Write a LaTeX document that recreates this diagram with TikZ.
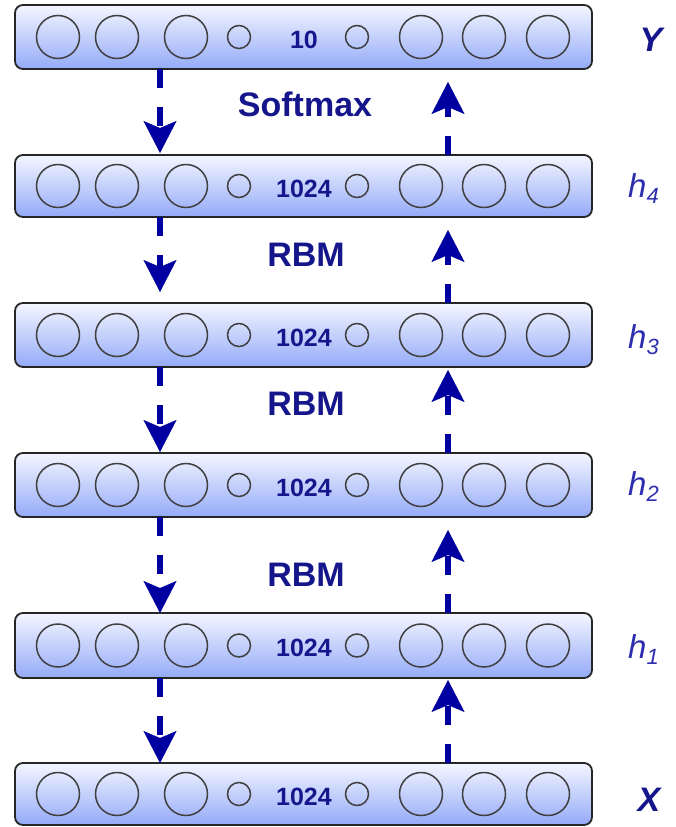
\documentclass[tikz,border=0pt]{standalone}
\usepackage{fontspec}
\setmainfont{Liberation Sans}
\usetikzlibrary{arrows.meta,calc}
\definecolor{arrowblue}{RGB}{0,0,160}
\definecolor{textblue}{RGB}{22,22,140}
\definecolor{labelblue}{RGB}{45,45,175}
\definecolor{boxtop}{RGB}{244,246,255}
\definecolor{boxbot}{RGB}{148,170,248}
\begin{document}
\begin{tikzpicture}[x=1pt,y=-1pt,
  layer/.style={draw=black!85, line width=1.8pt, rounded corners=8pt,
    top color=boxtop, bottom color=boxbot, minimum width=577pt,
    inner sep=0pt, outer sep=0pt},
  unit/.style={draw=black!75, line width=1.5pt},
  count/.style={anchor=base, font=\bfseries\fontsize{25}{25}\selectfont, text=textblue, inner sep=0pt},
  lbl/.style={font=\bfseries\fontsize{34}{34}\selectfont, text=textblue, inner sep=0pt},
  vlabel/.style={font=\bfseries\itshape\fontsize{34}{34}\selectfont, text=textblue, inner sep=0pt},
  hlabel/.style={anchor=base west, font=\itshape\fontsize{33}{33}\selectfont, text=labelblue, inner sep=0pt},
  arr/.style={draw=arrowblue, line width=6pt, dash pattern=on 19pt off 19pt,
    -{Stealth[length=32pt,width=33pt,inset=7pt,line width=0.5pt]}}
]
\fill[white] (0,0) rectangle (675,827);
\useasboundingbox (0,0) rectangle (675,827);

\foreach \n/\cy/\h/\num in {Y/37/64/10, h4/186/62/1024, h3/335/64/1024, h2/485/64/1024, h1/645.5/65/1024, X/794/62/1024} {
  \node[layer, minimum height=\h pt] (\n) at (303.5,\cy) {};
  \foreach \cx in {58,117,186,421,484,548}
    \draw[unit] (\cx,\cy) circle[radius=21.5pt];
  \foreach \cx in {239,357}
    \draw[unit] (\cx,\cy) circle[radius=11.5pt];
  \node[count] (\n num) at (304,\cy+11) {\num};
}

\coordinate (dl) at (160,0);
\coordinate (ur) at (448,0);

% downward arrows
\draw[arr, shorten >=2pt]  (Y.south -| dl)  -- (h4.north -| dl);
\draw[arr, shorten >=11pt] (h4.south -| dl) -- (h3.north -| dl);
\draw[arr, shorten >=1pt]  (h3.south -| dl) -- (h2.north -| dl);
\draw[arr]                 (h2.south -| dl) -- (h1.north -| dl);
\draw[arr]                 (h1.south -| dl) -- (X.north -| dl);

% upward arrows
\draw[arr, shorten >=13pt] (h4.north -| ur) -- (Y.south -| ur);
\draw[arr, shorten >=13pt] (h3.north -| ur) -- (h4.south -| ur);
\draw[arr, shorten >=3pt]  (h2.north -| ur) -- (h3.south -| ur);
\draw[arr, shorten >=13pt] (h1.north -| ur) -- (h2.south -| ur);
\draw[arr, shorten >=2pt]  (X.north -| ur)  -- (h1.south -| ur);

% middle labels
\node[lbl] (softmax) at (305,104) {Softmax};
\node[lbl] (rbm43) at (306,254.5) {RBM};
\node[lbl] (rbm32) at (306,404) {RBM};
\node[lbl] (rbm21) at (306,574.5) {RBM};

% side labels
\node[vlabel] (lY) at (651,39.5) {Y};
\node[hlabel] (lh4) at (628,197) {h\raisebox{-6pt}{\fontsize{22}{22}\selectfont 4}};
\node[hlabel] (lh3) at (628,348) {h\raisebox{-6pt}{\fontsize{22}{22}\selectfont 3}};
\node[hlabel] (lh2) at (628,495) {h\raisebox{-6pt}{\fontsize{22}{22}\selectfont 2}};
\node[hlabel] (lh1) at (628,658) {h\raisebox{-6pt}{\fontsize{22}{22}\selectfont 1}};
\node[vlabel] (lX) at (649,799.5) {X};
\end{tikzpicture}
\end{document}
